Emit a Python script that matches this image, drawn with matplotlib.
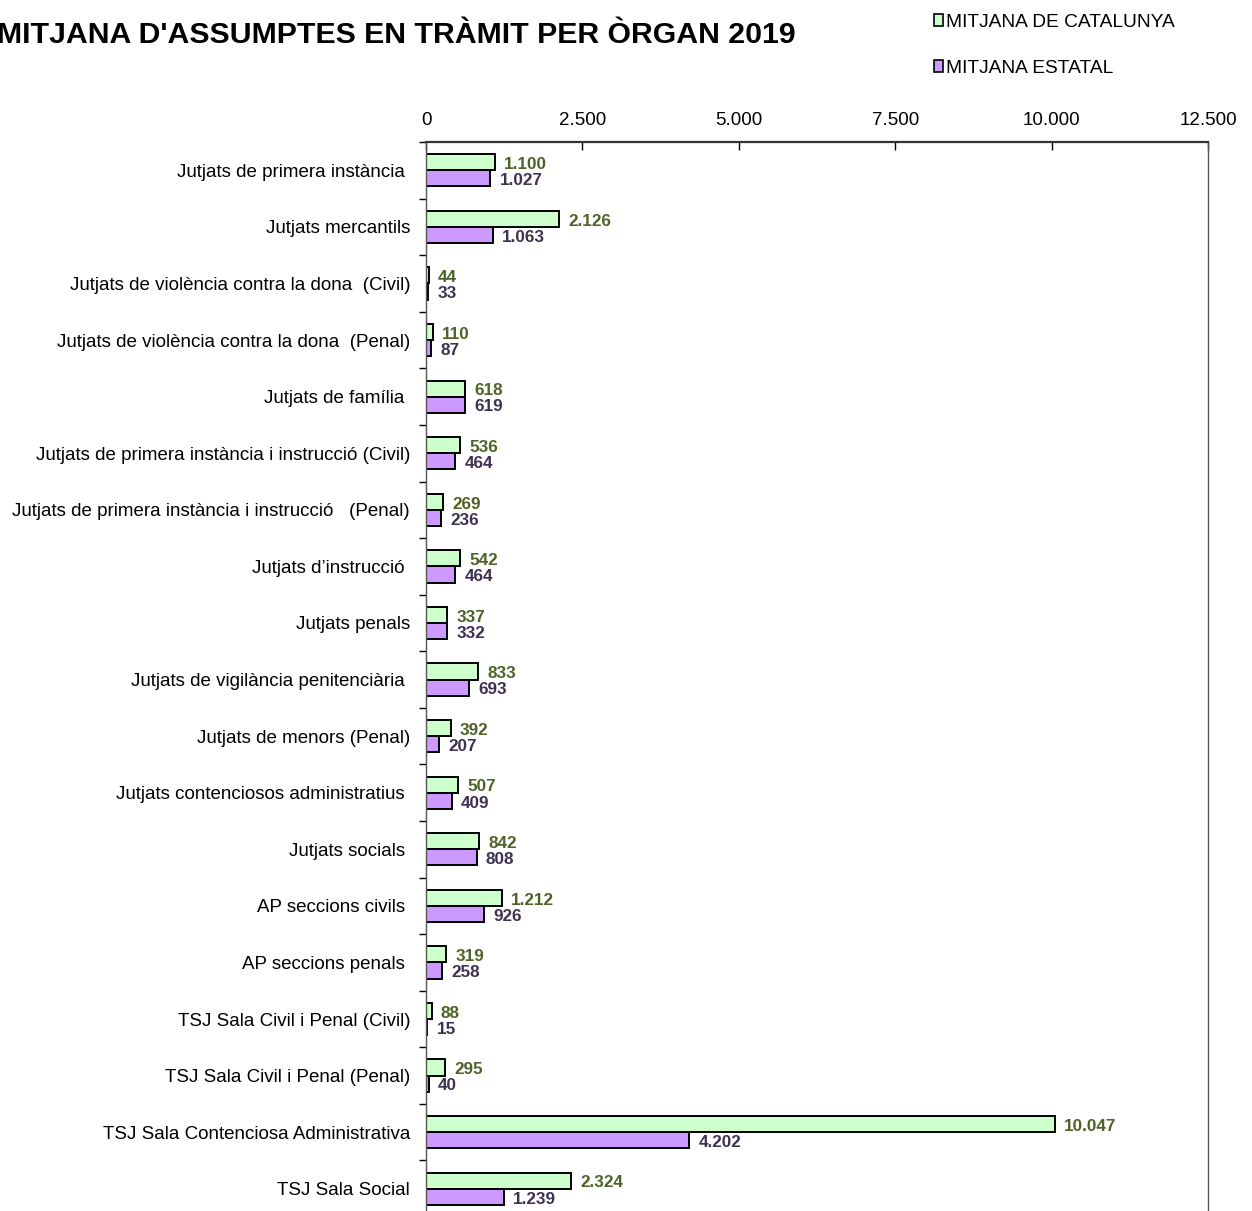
import matplotlib
matplotlib.use("Agg")
import matplotlib.pyplot as plt
from matplotlib.patches import Patch
import numpy as np

# data
organs = ["Jutjats de primera instància ", "Jutjats mercantils",
          "Jutjats de violència contra la dona  (Civil)",
          "Jutjats de violència contra la dona  (Penal)",
          "Jutjats de família ", "Jutjats de primera instància i instrucció (Civil)",
          "Jutjats de primera instància i instrucció   (Penal)",
          "Jutjats d’instrucció ", "Jutjats penals",
          "Jutjats de vigilància penitenciària ", "Jutjats de menors (Penal)",
          "Jutjats contenciosos administratius ", "Jutjats socials ",
          "AP seccions civils ", "AP seccions penals ",
          "TSJ Sala Civil i Penal (Civil)", "TSJ Sala Civil i Penal (Penal)",
          "TSJ Sala Contenciosa Administrativa", "TSJ Sala Social"]
catalunya = [1100, 2126, 44, 110, 618, 536, 269, 542, 337, 833, 392, 507, 842,
             1212, 319, 88, 295, 10047, 2324]
estatal = [1027, 1063, 33, 87, 619, 464, 236, 464, 332, 693, 207, 409, 808,
           926, 258, 15, 40, 4202, 1239]
xticks = [0, 2500, 5000, 7500, 10000, 12500]

green = "#CCFFCC"
purple = "#CC99FF"
green_txt = "#4F6228"
purple_txt = "#3F3151"

def fmt(v):
    return f"{v:,}".replace(",", ".")

fig = plt.figure(figsize=(12.52, 12.11), dpi=100)
ax = fig.add_axes([0.3403, -0.005, 0.6246, 0.8877])

y = np.arange(len(organs))
h = 0.285
ax.barh(y - h / 2, catalunya, height=h, color=green, edgecolor="black", linewidth=1.4)
ax.barh(y + h / 2, estatal, height=h, color=purple, edgecolor="black", linewidth=1.4)

lab_font = dict(family="Liberation Sans", fontsize=12.3, fontweight="bold")
for i in range(len(organs)):
    ax.text(catalunya[i] + 150, y[i] - h / 2 + 0.04, fmt(catalunya[i]), color=green_txt,
            va="center", ha="left", **lab_font)
    ax.text(estatal[i] + 150, y[i] + h / 2 + 0.04, fmt(estatal[i]), color=purple_txt,
            va="center", ha="left", **lab_font)

ax.set_xlim(0, 12500)
ax.set_ylim(len(organs) - 0.5, -0.5)
ax.xaxis.tick_top()
ax.set_xticks(xticks)
ax.set_xticklabels([fmt(v) for v in xticks], family="Liberation Sans", fontsize=13.5)
ax.tick_params(axis="x", direction="in", length=6, pad=9.5, width=1)

ax.set_yticks(y)
ax.set_yticklabels(organs, family="Liberation Sans", fontsize=13.5)
ax.set_yticks(np.arange(len(organs) + 1) - 0.5, minor=True)
ax.tick_params(axis="y", which="major", length=0, pad=11.5)
ax.tick_params(axis="y", which="minor", length=5, direction="out", width=1)

for s in ax.spines.values():
    s.set_color("#555555")
ax.spines["top"].set_linewidth(1.6)
ax.spines["top"].set_color("#333333")
ax.spines["left"].set_linewidth(1.0)
ax.spines["right"].set_linewidth(1.0)

fig.text(-0.002, 1 - 35 / 1211, "MITJANA D'ASSUMPTES EN TRÀMIT PER ÒRGAN 2019",
         family="Liberation Sans", fontsize=21.8, fontweight="bold", va="center", ha="left")

handles = [Patch(facecolor=green, edgecolor="black", linewidth=1.2),
           Patch(facecolor=purple, edgecolor="black", linewidth=1.2)]
fig.legend(handles, ["MITJANA DE CATALUNYA", "MITJANA ESTATAL"], loc="upper left",
           bbox_to_anchor=(926 / 1252, 1 - 6 / 1211), frameon=False,
           prop=dict(family="Liberation Sans", size=13.8), handlelength=0.5,
           handleheight=0.65, handletextpad=0.15, labelspacing=1.5, borderaxespad=0)

fig.savefig("out.png", dpi=100)
